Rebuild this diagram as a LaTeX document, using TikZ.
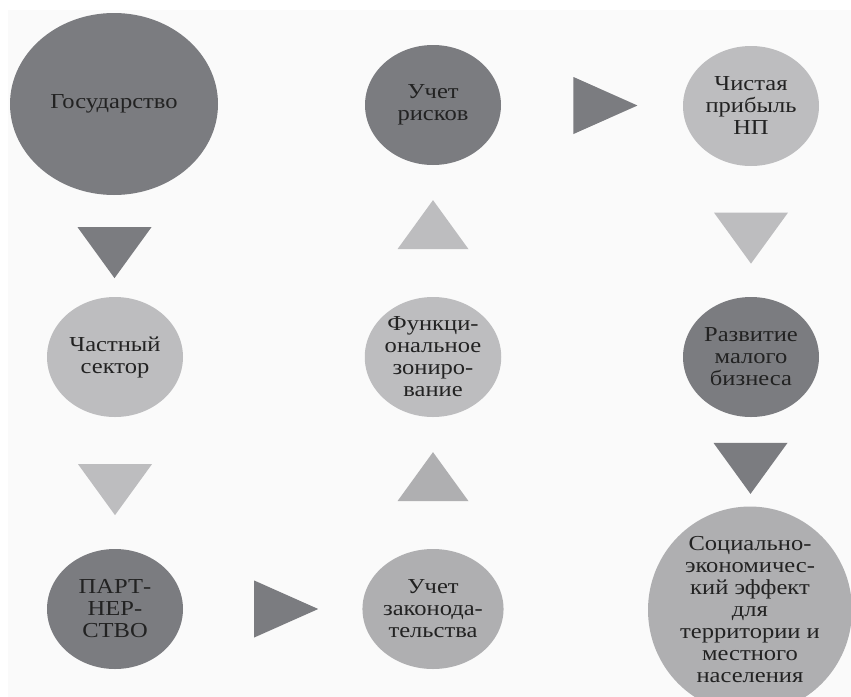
\documentclass[tikz,border=0pt]{standalone}
\usepackage{fontspec}
\setmainfont{Liberation Serif}[FakeStretch=1.15]
\usepackage{tikz}
\usetikzlibrary{shapes.geometric,positioning}
\definecolor{darkgr}{HTML}{7B7C80}
\definecolor{lightgr}{HTML}{BDBDBF}
\definecolor{midgr}{HTML}{AFAFB1}
\definecolor{txtgr}{HTML}{222222}
\definecolor{bggr}{HTML}{FAFAFA}
\tikzset{%
	stage/.style    = {ellipse, inner sep=0pt, minimum width=102pt, minimum height=90pt, align=center, text=txtgr, font=\fontsize{16}{16.5}\selectfont},
	bigstage/.style = {stage, minimum width=156pt, minimum height=136.5pt},
	tridown/.style  = {isosceles triangle, isosceles triangle stretches, shape border rotate=-90, inner sep=0pt, minimum width=55.5pt, minimum height=38.25pt},
	triup/.style    = {isosceles triangle, isosceles triangle stretches, shape border rotate=90, inner sep=0pt, minimum width=53.25pt, minimum height=36.75pt},
	triright/.style = {isosceles triangle, isosceles triangle stretches, inner sep=0pt, minimum width=42.75pt, minimum height=48pt},
}
\begin{document}
\begin{tikzpicture}[x=0.75pt,y=-0.75pt]
	\useasboundingbox (0,0) rectangle (851,697);
	\fill[white] (0,0) rectangle (851,697);
	\fill[bggr] (8,10) rectangle (851,697);
	% left column
	\node[bigstage, fill=darkgr] (gos) at (114,104) {Государство};
	\node[stage, fill=lightgr] (chast) at (115,357) {Частный\\сектор};
	\node[stage, fill=darkgr] (partner) at (115,609) {ПАРТ-\\НЕР-\\СТВО};
	% middle column
	\node[stage, fill=darkgr] (riski) at (433,105) {Учет\\рисков};
	\node[stage, fill=lightgr] (funk) at (433,357) {Функци-\\ональное\\зониро-\\вание};
	\node[stage, fill=midgr] (zakon) at (433,609) {Учет\\законода-\\тельства};
	% right column
	\node[stage, fill=lightgr] (pribyl) at (751,106) {Чистая\\прибыль\\НП};
	\node[stage, fill=darkgr] (razvitie) at (751,357) {Развитие\\малого\\бизнеса};
	\node[bigstage, fill=midgr, minimum width=153pt, minimum height=138pt] (socef) at (750,610) {Социально-\\экономичес-\\кий эффект\\для\\территории и\\местного\\населения};
	% arrows
	\path (gos.south) -- node[tridown, fill=darkgr] (a1) {} (chast.north);
	\path (chast.south) -- node[tridown, fill=lightgr] (a2) {} (partner.north);
	\path (partner.east) -- node[triright, fill=darkgr] (a3) {} (zakon.west);
	\path (zakon.north) -- node[triup, fill=midgr] (a4) {} (funk.south);
	\path (funk.north) -- node[triup, fill=lightgr] (a5) {} (riski.south);
	\path (riski.east) -- node[triright, fill=darkgr] (a6) {} (pribyl.west);
	\path (pribyl.south) -- node[tridown, fill=lightgr] (a7) {} (razvitie.north);
	\path (razvitie.south) -- node[tridown, fill=darkgr] (a8) {} (socef.north);
\end{tikzpicture}
\end{document}
